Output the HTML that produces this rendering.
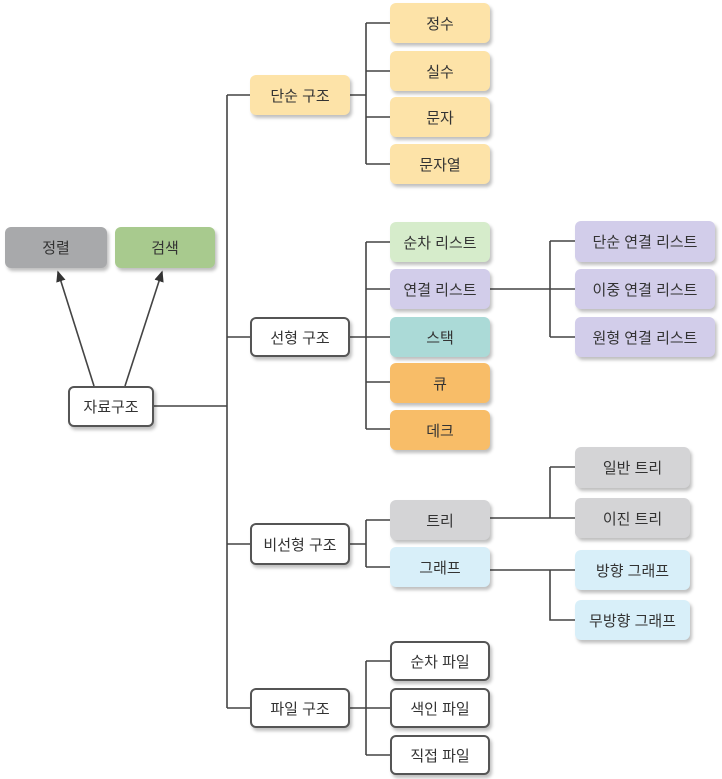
<!DOCTYPE html>
<html><head><meta charset="utf-8"><style>
body{margin:0;width:722px;height:779px;background:#fff;position:relative;overflow:hidden;font-family:"Liberation Sans","Noto Sans CJK KR",sans-serif;}
.b{position:absolute;box-sizing:border-box;border-radius:6px;display:flex;align-items:center;justify-content:center;font-size:15px;color:#333;box-shadow:2px 3px 3px rgba(0,0,0,0.25);}
.w{background:#fff;border:2px solid #555;}
.y{background:#fde3a8}.g{background:#d6eccb}.p{background:#d2cdea}.t{background:#abdad7}.o{background:#f8bd68}.gr{background:#d4d4d6}.s{background:#d8eff9}
svg{position:absolute;left:0;top:0}
</style></head><body>
<svg width="722" height="779" stroke="#444" stroke-width="1.6" fill="none">
<defs><marker id="a" markerWidth="8" markerHeight="8" refX="6" refY="4" orient="auto"><path d="M0,1L7,4L0,7z" fill="#333" stroke="none"/></marker></defs>
<line x1="94" y1="386" x2="58" y2="272" marker-end="url(#a)"/>
<line x1="125" y1="386" x2="162" y2="272" marker-end="url(#a)"/>
<path d="M153 406H227M227 95V708M227 95H250M227 337H250M227 544H250M227 708H250"/>
<path d="M350 95H366M366 23V164M366 23H390M366 71H390M366 117H390M366 164H390"/>
<path d="M350 337H390M366 242V429M366 242H390M366 289H390M366 382H390M366 429H390"/>
<path d="M490 289H575M550 241V337M550 241H575M550 337H575"/>
<path d="M350 544H366M366 520V567M366 520H390M366 567H390"/>
<path d="M490 518H575M550 467V518M550 467H575M490 570H575M550 570V620H575"/>
<path d="M350 708H390M366 661V755M366 661H390M366 755H390"/>
</svg>
<div class="b" style="left:5px;top:227px;width:102px;height:41px;background:#a8a9ab">정렬</div>
<div class="b" style="left:115px;top:227px;width:100px;height:41px;background:#a8ca8e">검색</div>
<div class="b w" style="left:68px;top:386px;width:86px;height:41px">자료구조</div>
<div class="b y" style="left:250px;top:75px;width:100px;height:40px">단순 구조</div>
<div class="b w" style="left:250px;top:317px;width:100px;height:40px">선형 구조</div>
<div class="b w" style="left:250px;top:523px;width:100px;height:42px">비선형 구조</div>
<div class="b w" style="left:250px;top:688px;width:100px;height:40px">파일 구조</div>
<div class="b y" style="left:390px;top:3px;width:100px;height:40px">정수</div>
<div class="b y" style="left:390px;top:51px;width:100px;height:40px">실수</div>
<div class="b y" style="left:390px;top:97px;width:100px;height:40px">문자</div>
<div class="b y" style="left:390px;top:144px;width:100px;height:40px">문자열</div>
<div class="b g" style="left:390px;top:222px;width:100px;height:40px">순차 리스트</div>
<div class="b p" style="left:390px;top:269px;width:100px;height:40px">연결 리스트</div>
<div class="b t" style="left:390px;top:317px;width:100px;height:40px">스택</div>
<div class="b o" style="left:390px;top:363px;width:100px;height:40px">큐</div>
<div class="b o" style="left:390px;top:410px;width:100px;height:40px">데크</div>
<div class="b gr" style="left:390px;top:500px;width:100px;height:40px">트리</div>
<div class="b s" style="left:390px;top:547px;width:100px;height:40px">그래프</div>
<div class="b w" style="left:390px;top:641px;width:100px;height:40px">순차 파일</div>
<div class="b w" style="left:390px;top:688px;width:100px;height:40px">색인 파일</div>
<div class="b w" style="left:390px;top:735px;width:100px;height:40px">직접 파일</div>
<div class="b p" style="left:575px;top:221px;width:140px;height:41px">단순 연결 리스트</div>
<div class="b p" style="left:575px;top:269px;width:140px;height:40px">이중 연결 리스트</div>
<div class="b p" style="left:575px;top:317px;width:140px;height:40px">원형 연결 리스트</div>
<div class="b gr" style="left:575px;top:447px;width:115px;height:41px">일반 트리</div>
<div class="b gr" style="left:575px;top:498px;width:115px;height:40px">이진 트리</div>
<div class="b s" style="left:575px;top:550px;width:115px;height:40px">방향 그래프</div>
<div class="b s" style="left:575px;top:600px;width:115px;height:40px">무방향 그래프</div>
</body></html>
